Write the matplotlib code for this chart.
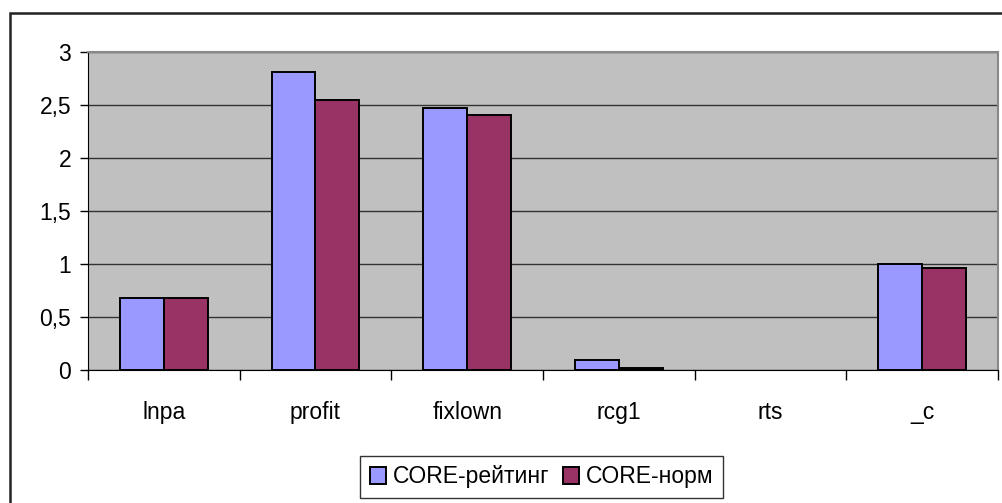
import matplotlib
matplotlib.use("Agg")
import matplotlib.pyplot as plt
import matplotlib.patches as patches
from matplotlib.ticker import FuncFormatter
import numpy as np

plt.rcParams["font.family"] = ["Liberation Sans", "DejaVu Sans"]

# ── Data ────────────────────────────────────────────────────
categories = ["lnpa", "profit", "fixlown", "rcg1", "rts", "_c"]
core_rating = [0.68, 2.81, 2.47, 0.09, 0.0, 1.00]
core_norm = [0.68, 2.55, 2.41, 0.02, 0.0, 0.96]
series_names = ["CORE-рейтинг", "CORE-норм"]
y_ticks = [0, 0.5, 1, 1.5, 2, 2.5, 3]

BLUE = "#9999ff"
WINE = "#993366"

fig = plt.figure(figsize=(10.03, 5.03), dpi=100)
fig.patch.set_facecolor("white")

# outer chart border (cut off at right/bottom like the original)
fig.add_artist(patches.Rectangle((10 / 1003, -0.1), 1.2, 1 - 13 / 503 + 0.1,
                                 transform=fig.transFigure, fill=False,
                                 edgecolor="#222222", linewidth=1.8))

ax = fig.add_axes([88 / 1003, 1 - 370 / 503, (998 - 88) / 1003, (370 - 52) / 503])
ax.set_facecolor("#c0c0c0")

x = np.arange(len(categories))
w = 0.29
# zero-height bars are not outlined in the original
lw_a = [1.4 if v > 0 else 0 for v in core_rating]
lw_b = [1.4 if v > 0 else 0 for v in core_norm]
ax.bar(x - w / 2, core_rating, w, color=BLUE, edgecolor="black", linewidth=lw_a,
       label=series_names[0], zorder=3)
ax.bar(x + w / 2, core_norm, w, color=WINE, edgecolor="black", linewidth=lw_b,
       label=series_names[1], zorder=3)

ax.set_xlim(-0.5, len(categories) - 0.5)
ax.set_ylim(0, 3)
ax.set_yticks(y_ticks)
ax.yaxis.set_major_formatter(FuncFormatter(lambda v, p: f"{v:g}".replace(".", ",")))
ax.grid(axis="y", color="#333333", linewidth=1.0, zorder=1)

ax.set_xticks(x)
ax.set_xticklabels(categories)
ax.set_xticks(np.arange(len(categories) + 1) - 0.5, minor=True)
ax.tick_params(axis="x", which="major", length=0, pad=22, labelsize=16.5)
ax.tick_params(axis="x", which="minor", length=7, width=1.0, color="black")
ax.tick_params(axis="y", length=6, width=1.0, labelsize=16.5, pad=6)

for side in ["top", "right"]:
    ax.spines[side].set_color("#888888")
    ax.spines[side].set_linewidth(1.5)
ax.spines["left"].set_color("black")
ax.spines["bottom"].set_color("black")

leg = fig.legend(loc="center", bbox_to_anchor=(541.5 / 1003, 1 - 477 / 503),
                 ncol=2, fontsize=16.5, frameon=True, fancybox=False,
                 edgecolor="black", handlelength=0.7, handleheight=0.7,
                 handletextpad=0.3, columnspacing=0.6, borderpad=0.4)
leg.get_frame().set_linewidth(1.0)

fig.savefig("out.png", dpi=100)
plt.close(fig)
